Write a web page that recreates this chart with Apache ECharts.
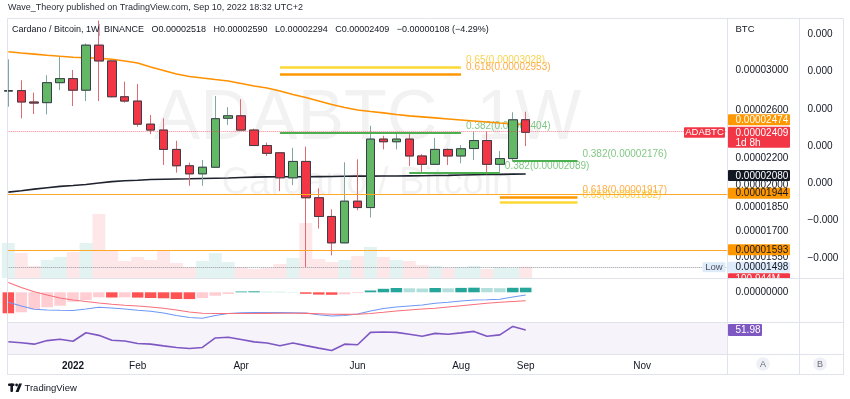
<!DOCTYPE html>
<html>
<head>
<meta charset="utf-8">
<title>ADABTC 1W</title>
<script src="https://cdn.jsdelivr.net/npm/echarts@6.0.0/dist/echarts.min.js"></script>
<style>
  html, body { margin: 0; padding: 0; background: #ffffff; }
  #chart { width: 850px; height: 399px; }
</style>
</head>
<body>
<div id="chart"></div>
<script>
// ADA/BTC weekly (Binance), prices in satoshi (1e-8 BTC)
// week index 0 = week of 3 Jan 2022
const weeks = [-5, -4, -3, -2, -1, 0, 1, 2, 3, 4, 5, 6, 7, 8, 9, 10, 11, 12, 13, 14, 15,
  16, 17, 18, 19, 20, 21, 22, 23, 24, 25, 26, 27, 28, 29, 30, 31, 32, 33, 34, 35];
const opens = [2785, 2790, 2680, 2674, 2869, 2910, 2794, 3274, 3097, 2730, 2689, 2479, 2428, 2268, 2141, 2081,
  2130, 2531, 2553, 2428, 2299, 2241, 2052, 2174, 1913, 1791, 1632, 1890, 1848, 2352, 2330,
  2352, 2216, 2152, 2268, 2216, 2275, 2340, 2152, 2196, 2518];
const closes = [2790, 2680, 2670, 2869, 2910, 2794, 3274, 3097, 2730, 2689, 2479, 2428, 2268, 2141, 2081, 2130,
  2527, 2553, 2428, 2299, 2237, 2052, 2174, 1913, 1791, 1632, 1890, 1848, 2352, 2330, 2352,
  2216, 2152, 2268, 2216, 2273, 2340, 2152, 2196, 2517, 2409];
const highs = [3114, 2893, 2770, 2945, 3141, 3000, 3294, 3570, 3100, 2879, 2856, 2560, 2531, 2338, 2165, 2185,
  2737, 2632, 2706, 2440, 2323, 2245, 2281, 2290, 1977, 1837, 2168, 2190, 2464, 2380, 2402,
  2401, 2230, 2361, 2275, 2303, 2415, 2415, 2255, 2585, 2590];
const lows = [2636, 2530, 2569, 2566, 2794, 2642, 2689, 2689, 2725, 2674, 2456, 2394, 2147, 2090, 1995, 1995,
  2125, 2472, 2428, 2296, 2216, 1958, 2000, 1498, 1716, 1562, 1630, 1831, 1785, 2268, 2268,
  2139, 2095, 2147, 2147, 2160, 2185, 2077, 2095, 2172, 2294];
// volume, millions of ADA
const volumes = [313, 223, 107, 161, 188, 232, 313, 572, 241, 152, 188, 161, 241, 134, 98, 152,
  223, 143, 98, 80, 89, 125, 179, 491, 170, 143, 161, 196, 277, 188, 161,
  152, 116, 107, 89, 98, 107, 80, 98, 89, 100.944];
// moving averages (sats)
const ema50 = [3199, 3185, 3172, 3159, 3148, 3138, 3132, 3126, 3115, 3097, 3075, 3032, 2995, 2958, 2932, 2917,
  2901, 2886, 2861, 2836, 2816, 2786, 2752, 2723, 2690, 2657, 2629, 2606, 2592, 2579, 2565,
  2552, 2543, 2534, 2525, 2516, 2507, 2498, 2489, 2481, 2474];
const sma200 = [1951, 1961, 1972, 1982, 1991, 1997, 2004, 2015, 2025, 2031, 2035, 2040, 2042, 2044, 2045, 2047,
  2049, 2051, 2054, 2057, 2059, 2060, 2060, 2060, 2061, 2062, 2063, 2064, 2064, 2065, 2065,
  2066, 2067, 2069, 2070, 2072, 2074, 2076, 2077, 2079, 2080];
// MACD (1e-9 BTC)
const macdLine = [-10, -13.7, -17, -17.7, -18, -18.2, -16.7, -15, -15.7, -16.7, -17.9, -19, -20.7, -23.2, -25.2, -26,
  -23.2, -21.2, -20.5, -20.2, -20.2, -20.3, -20.4, -20.7, -22.5, -23.7, -23.2, -21.7, -18.7, -16.2, -14.7,
  -13.7, -12.7, -11, -10, -8.7, -7.7, -7.4, -7, -4.7, -2.7];
const signalLine = [9.8, 4.8, 0.6, -2.7, -5.7, -7.7, -9.2, -10.7, -11.9, -12.9, -13.7, -14.7, -16, -17.7, -19.7, -21,
  -21.2, -21.2, -21.2, -21.2, -21.1, -21, -21, -21.1, -21.5, -21.9, -22.1, -21.9, -21.2, -20, -18.7,
  -17.7, -16.7, -16, -14.7, -13.4, -12.2, -11, -10, -9.2, -8.4];
const macdHist = [-21, -20, -17, -15, -13.4, -9.4, -7.7, -5, -5.2, -5, -5.3, -5.7, -6, -6.7, -6.8, -5.7,
  -3.4, -1.7, 0.8, 1.0, 0.6, 0.5, 0.3, -1.5, -2.3, -2.5, -2, -0.8, 1.8, 3.5, 4.3,
  4, 3.8, 4.3, 4.0, 4.4, 4.6, 4.3, 4.1, 4.5, 4.6];
const rsi = [39.4, 38.3, 36.8, 40.6, 42.0, 39.9, 49.0, 46.2, 41.0, 40.2, 37.5, 36.8, 35.0, 33.3, 32.2, 33.3,
  43.4, 44.1, 41.7, 39.2, 38.1, 35.0, 38.1, 35.2, 32.6, 30.1, 36.8, 36.2, 49.4, 49.7, 49.4,
  47.3, 45.2, 48.3, 47.3, 48.8, 50.4, 45.2, 46.7, 55.7, 51.98];

// horizontal support levels and fib drawings (sats)
const hLevels = [1944, 1593];
const fibLevels = [3028, 2953, 2404, 2176, 2089, 1917, 1882];
const fibRatios = ['0.65', '0.618', '0.382', '0.382', '0.382', '0.618', '0.65'];
const fibFrom = [16, 16, 16, 34, 26, 33, 33];
const fibTo = [30, 30, 30, 39, 33, 39, 39];

// axis ticks
const priceTicks = [3000, 2600, 2200, 2000, 1850, 1700, 1550];
const sideTicks = [0.00045, 0.00035, 0.00025, 0.00015, 0.00005, -0.00005, -0.00015];
const monthTicks = [0, 5, 13, 22, 30, 35, 44];
const monthLabels = ['2022', 'Feb', 'Apr', 'Jun', 'Aug', 'Sep', 'Nov'];

const FONT = '"Liberation Sans", Arial, sans-serif';
const UP = '#62b865', DOWN = '#f23645';
const ln = Math.log;
const sats = v => (v * 1e-8).toFixed(8);
const n = weeks.length;

const chart = echarts.init(document.getElementById('chart'));

const wickData = weeks.map((w, i) => [w, ln(opens[i]), ln(closes[i]), ln(lows[i]), ln(highs[i])]);
const bodyData = weeks.map((w, i) => [w, ln(opens[i]), ln(closes[i]),
  ln(Math.min(opens[i], closes[i])), ln(Math.max(opens[i], closes[i]))]);

const volData = weeks.map((w, i) => ({
  value: [w, volumes[i]],
  itemStyle: { color: closes[i] >= opens[i] ? 'rgba(38,166,154,0.13)' : 'rgba(242,54,69,0.12)' }
}));

const histData = weeks.map((w, i) => {
  const v = macdHist[i], prev = i > 0 ? macdHist[i - 1] : v + 1;
  let c;
  if (v >= 0) c = v > prev ? '#26a69a' : '#b2dfdb';
  else c = v < prev ? '#ff5252' : '#ffcdd2';
  return { value: [w, v], itemStyle: { color: c } };
});

const lastClose = closes[n - 1];
const lowest = Math.min(...lows);

const fibColor = r => r === '0.65' ? '#fbd834' : (r === '0.618' ? '#ff9800' : '#4caf50');
const fibLabelColor = r => r === '0.65' ? 'rgba(246,200,40,0.8)' : (r === '0.618' ? 'rgba(255,160,40,0.85)' : 'rgba(76,175,80,0.7)');

const markLines = [
  { yAxis: ln(lastClose), lineStyle: { color: 'rgba(242,54,69,0.6)', type: 'dotted', width: 1 } },
  { yAxis: ln(lowest), lineStyle: { color: '#9598a1', type: 'dotted', width: 1 } }
].concat(hLevels.map(v => ({ yAxis: ln(v), lineStyle: { color: '#ffa726', type: 'solid', width: 1 } })))
 .concat(fibLevels.map((v, i) => [
    { coord: [fibFrom[i], ln(v)], lineStyle: { color: fibColor(fibRatios[i]), width: fibRatios[i] === '0.382' ? 2 : 2.5, type: 'solid' } },
    { coord: [fibTo[i], ln(v)] }
  ]));

const hiddenAxis = { axisLine: { show: false }, axisTick: { show: false }, splitLine: { show: false } };

const option = {
  animation: false,
  backgroundColor: '#ffffff',
  grid: [
    { left: 7.3, right: 122.5, top: 19, height: 259, outerBoundsMode: 'none' },
    { left: 7.3, right: 122.5, top: 279, height: 43, outerBoundsMode: 'none' },
    { left: 7.3, right: 122.5, top: 322.5, height: 31.5, outerBoundsMode: 'none',
      show: true, backgroundColor: 'rgba(126,87,194,0.07)', borderWidth: 0 }
  ],
  xAxis: [0, 1, 2].map(g => Object.assign({
    type: 'value', gridIndex: g, min: -5.08, max: 50.6,
    axisLabel: g !== 2 ? { show: false } : {
      show: true, customValues: monthTicks, margin: 7, fontSize: 10, color: '#131722', fontFamily: FONT,
      formatter: v => {
        const k = monthTicks.indexOf(v);
        return k === 0 ? '{b|' + monthLabels[k] + '}' : monthLabels[k];
      },
      rich: { b: { fontWeight: 'bold', fontSize: 10, color: '#131722', fontFamily: FONT } }
    }
  }, hiddenAxis)),
  yAxis: [
    Object.assign({
      type: 'value', gridIndex: 0, position: 'right', min: ln(1442), max: ln(3590),
      axisLabel: { customValues: priceTicks.map(ln), margin: 8, fontSize: 10, color: '#131722', fontFamily: FONT,
        formatter: v => sats(Math.round(Math.exp(v))) }
    }, hiddenAxis),
    Object.assign({
      type: 'value', gridIndex: 0, position: 'right', offset: 72, min: -0.000204, max: 0.000491,
      axisLabel: { customValues: sideTicks, margin: 8, fontSize: 10, color: '#131722', fontFamily: FONT,
        formatter: v => v.toFixed(3).replace('-', '\u2212') }
    }, hiddenAxis),
    Object.assign({ type: 'value', gridIndex: 0, min: 0, max: 2313, axisLabel: { show: false } }, hiddenAxis),
    Object.assign({
      type: 'value', gridIndex: 1, position: 'right', min: -29.7, max: 13.3,
      axisLabel: { customValues: [0], margin: 8, fontSize: 10, color: '#131722', fontFamily: FONT,
        formatter: v => (v * 1e-9).toFixed(8) }
    }, hiddenAxis),
    Object.assign({ type: 'value', gridIndex: 2, min: 26.3, max: 59.9, axisLabel: { show: false } }, hiddenAxis)
  ],
  series: [
    { name: 'Volume', type: 'bar', xAxisIndex: 0, yAxisIndex: 2, barWidth: 12.9, data: volData, z: 1 },
    { name: 'EMA 50', type: 'line', xAxisIndex: 0, yAxisIndex: 0, showSymbol: false, symbol: 'none',
      data: weeks.map((w, i) => [w, ln(ema50[i])]), lineStyle: { color: '#ff9100', width: 1.6 }, z: 2 },
    { name: 'SMA 200', type: 'line', xAxisIndex: 0, yAxisIndex: 0, showSymbol: false, symbol: 'none',
      data: weeks.map((w, i) => [w, ln(sma200[i])]), lineStyle: { color: '#1e222d', width: 1.6 }, z: 2 },
    { name: 'wicks', type: 'candlestick', xAxisIndex: 0, yAxisIndex: 0, barWidth: 9, data: wickData, z: 3,
      itemStyle: { color: UP, color0: DOWN, borderColor: '#7fa99d', borderColor0: '#e06a74', borderWidth: 1 },
      markLine: { silent: true, symbol: ['none', 'none'], label: { show: false }, data: markLines } },
    { name: 'ADABTC', type: 'candlestick', xAxisIndex: 0, yAxisIndex: 0, barWidth: 9, data: bodyData, z: 4,
      itemStyle: { color: UP, color0: DOWN, borderColor: '#3a3e48', borderColor0: '#3a3e48', borderWidth: 1 } },
    { name: 'Histogram', type: 'bar', xAxisIndex: 1, yAxisIndex: 3, barWidth: 11.5, data: histData },
    { name: 'MACD', type: 'line', xAxisIndex: 1, yAxisIndex: 3, showSymbol: false, symbol: 'none',
      data: weeks.map((w, i) => [w, macdLine[i]]), lineStyle: { color: '#6e98f5', width: 1.1 } },
    { name: 'Signal', type: 'line', xAxisIndex: 1, yAxisIndex: 3, showSymbol: false, symbol: 'none',
      data: weeks.map((w, i) => [w, signalLine[i]]), lineStyle: { color: '#f7707a', width: 1.1 } },
    { name: 'RSI', type: 'line', xAxisIndex: 2, yAxisIndex: 4, showSymbol: false, symbol: 'none',
      data: weeks.map((w, i) => [w, rsi[i]]), lineStyle: { color: '#7e57c2', width: 1.6 } }
  ]
};
chart.setOption(option);

// ---- annotations placed through the chart's own scales ----
const px = w => chart.convertToPixel({ xAxisIndex: 0 }, w);
const py = v => chart.convertToPixel({ yAxisIndex: 0 }, ln(v));

function txt(x, y, text, o) {
  o = o || {};
  const align = o.align || 'left', va = o.va || 'middle';
  return { type: 'text', silent: true, z: o.z == null ? 50 : o.z,
    style: { text: text, x: x, y: y, fill: o.fill || '#131722',
      font: (o.weight || 'normal') + ' ' + (o.size || 10) + 'px ' + FONT,
      align: align, verticalAlign: va, textAlign: align, textVerticalAlign: va } };
}
function box(x, y, w, h, fill, z) {
  return { type: 'rect', silent: true, z: z == null ? 49 : z, shape: { x: x, y: y, width: w, height: h, r: 1 }, style: { fill: fill } };
}
function seg(x1, y1, x2, y2, color) {
  return { type: 'line', silent: true, z: 60, shape: { x1: x1, y1: y1, x2: x2, y2: y2 }, style: { stroke: color || '#e0e3eb', lineWidth: 1 } };
}
function badge(y, text, bg, fg) {
  return [box(728, y - 5.5, 62, 11, bg), txt(735.5, y + 0.5, text, { fill: fg || '#ffffff' })];
}

const els = [];
// watermark
els.push(txt(367.4, 120, 'ADABTC, 1W', { size: 70, align: 'center', fill: 'rgba(19,23,34,0.055)', z: 0 }));
els.push(txt(367.4, 184, 'Cardano / Bitcoin', { size: 38, align: 'center', fill: 'rgba(19,23,34,0.055)', z: 0 }));

// fib labels
fibLevels.forEach((v, i) => {
  els.push(txt(px(fibTo[i]) + 5, py(v) - 7, fibRatios[i] + '(' + sats(v) + ')',
    { fill: fibLabelColor(fibRatios[i]), z: 1 }));
});

// price-axis badges
const yClose = py(lastClose);
els.push(...badge(py(ema50[n - 1]) - 5, sats(ema50[n - 1]), '#ff9800'));
els.push(box(728, yClose - 5.5, 62, 21, DOWN), txt(735.5, yClose + 0.5, sats(lastClose), { fill: '#fff' }),
  txt(735.5, yClose + 10.5, '1d 8h', { fill: '#fff' }));
els.push(box(684, yClose - 5, 41, 10.5, DOWN), txt(704.5, yClose + 0.3, 'ADABTC', { fill: '#fff', align: 'center', size: 9.5 }));
els.push(...badge(py(sma200[n - 1]) + 1.5, sats(sma200[n - 1]), '#131722'));
hLevels.forEach(v => els.push(...badge(py(v), sats(v), '#ff9800', '#131722')));
const yLow = py(lowest);
els.push(box(702.5, yLow - 5, 23, 10, '#deebfa'), txt(714, yLow + 0.3, 'Low', { fill: '#50535e', align: 'center', size: 9.5 }));
els.push(...badge(yLow, sats(lowest), '#deebfa', '#131722'));
els.push(box(728, yLow + 6, 62, 12, DOWN, 48), txt(735.5, yLow + 12, volumes[n - 1].toFixed(3) + 'M', { fill: '#fff', z: 48 }));
els.push(box(727.8, 279, 71, 8, '#ffffff', 55));
// RSI badge
const yRsi = chart.convertToPixel({ yAxisIndex: 4 }, rsi[n - 1]);
els.push(box(728, yRsi - 6, 34, 12, '#7e57c2'), txt(735.5, yRsi + 0.5, rsi[n - 1].toFixed(2), { fill: '#fff' }));

// frame
[7.5, 727.5, 799.5, 843.5].forEach(x => els.push(seg(x, 18.5, x, 374.5)));
[18.5, 278.5, 322.5, 354.5, 374.5].forEach(y => els.push(seg(7.5, y, 843.5, y)));

// header & legend
els.push(txt(8, 8, 'Wave_Theory published on TradingView.com, Sep 10, 2022 18:32 UTC+2', { size: 9, fill: '#2a2e39' }));
const chg = lastClose - closes[n - 2];
const pct = (chg / closes[n - 2] * 100).toFixed(2);
els.push(txt(12, 30, 'Cardano / Bitcoin, 1W', { size: 9 }));
els.push(seg(99.5, 24, 99.5, 36, '#b2b5be'));
els.push(txt(104, 30, 'BINANCE   O' + sats(opens[n - 1]) + '   H' + sats(highs[n - 1]) + '   L' + sats(lows[n - 1]) +
  '   C' + sats(lastClose) + '   ' + (chg < 0 ? '\u2212' : '+') + sats(Math.abs(chg)) +
  ' (' + pct.replace('-', '\u2212') + '%)', { size: 9 }));
els.push(box(728.5, 19, 70, 18, '#ffffff', 45), txt(735.5, 29, 'BTC', { size: 9.5 }));

// scale buttons
els.push({ type: 'circle', silent: true, z: 50, shape: { cx: 763, cy: 364, r: 6.8 }, style: { fill: '#eef0f5' } },
  txt(763, 364.5, 'A', { align: 'center', size: 9, fill: '#6a6d78' }));
els.push({ type: 'circle', silent: true, z: 50, shape: { cx: 820, cy: 364, r: 6.8 }, style: { fill: '#eef0f5' } },
  txt(820, 364.5, 'B', { align: 'center', size: 9, fill: '#6a6d78' }));

// footer logo
els.push(box(8, 383.5, 6.5, 2.6, '#131722', 50), box(10.4, 383.5, 2.6, 8.5, '#131722', 50),
  { type: 'circle', silent: true, z: 50, shape: { cx: 16.6, cy: 385, r: 1.4 }, style: { fill: '#131722' } },
  { type: 'polygon', silent: true, z: 50, shape: { points: [[19, 383.5], [22, 383.5], [18.6, 392], [15.6, 392]] }, style: { fill: '#131722' } },
  txt(24.5, 388, 'TradingView', { size: 9.5 }));

chart.setOption({ graphic: { elements: els } });
</script>
</body>
</html>
